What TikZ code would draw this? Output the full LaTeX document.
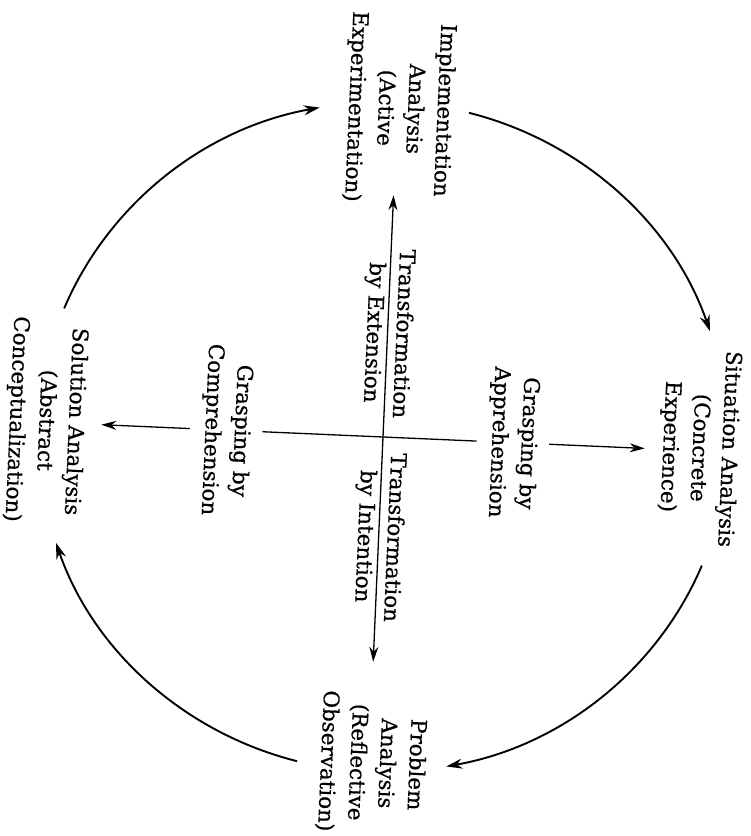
\documentclass[tikz,border=0pt]{standalone}
\usepackage{fontspec}
\newfontfamily\labelfont{DejaVu Serif}[FakeBold=0.6]
\usetikzlibrary{arrows.meta}
\begin{document}
\begin{tikzpicture}[x=1pt,y=1pt,
  lbl/.style={rotate=-90, align=center, font=\labelfont\fontsize{21.5}{29.5}\selectfont, inner sep=0pt},
  gaplbl/.style={lbl, inner sep=11pt},
  axis/.style={line width=1.3pt},
  cyc/.style={line width=1.9pt, -{Stealth[length=16pt,width=10pt]}}]
\useasboundingbox (-383,-399) rectangle (368,437);
\begin{scope}[rotate=-2.5, transform shape]
  % stage labels
  \node[lbl] (impl) at (2,329) {Implementation\\Analysis\\(Active\\Experimentation)};
  \node[lbl] (sit) at (316,3) {Situation Analysis\\(Concrete\\Experience)};
  \node[lbl] (prob) at (3,-326) {Problem\\Analysis\\(Reflective\\Observation)};
  \node[lbl] (sol) at (-338,2) {Solution Analysis\\(Abstract\\Conceptualization)};
  % axis labels
  \node[lbl] (ext) at (0,104) {Transformation\\by Extension};
  \node[lbl] (int) at (0,-100) {Transformation\\by Intention};
  \node[gaplbl] (comp) at (-157,0) {Grasping by\\Comprehension};
  \node[gaplbl] (appr) at (130,0) {Grasping by\\Apprehension};
  % axis ends
  \coordinate (vt) at (0,242);
  \coordinate (vb) at (0,-225);
  \coordinate (hl) at (-282,0);
  \coordinate (hr) at (262,0);
  % vertical axis
  \draw[axis, {Stealth[length=15pt,width=9pt]}-{Stealth[length=15pt,width=9pt]}] (vb) -- (vt);
  % horizontal axis
  \draw[axis, -{Stealth[length=15pt,width=9pt]}] (comp) -- (hl);
  \draw[axis] (comp) -- (appr);
  \draw[axis, -{Stealth[length=15pt,width=9pt]}] (appr) -- (hr);
  % cycle arcs
  \coordinate (a1) at ({345*cos(78)},{335*sin(78)});
  \coordinate (a2) at ({345*cos(-20)},{335*sin(-20)});
  \coordinate (a3) at ({345*cos(-102)},{335*sin(-102)});
  \coordinate (a4) at ({345*cos(160)},{335*sin(160)});
  \draw[cyc] (a1) arc[start angle=78, end angle=21, x radius=345pt, y radius=335pt];
  \draw[cyc] (a2) arc[start angle=-20, end angle=-77, x radius=345pt, y radius=335pt];
  \draw[cyc] (a3) arc[start angle=-102, end angle=-159, x radius=345pt, y radius=335pt];
  \draw[cyc] (a4) arc[start angle=160, end angle=103, x radius=345pt, y radius=335pt];
\end{scope}
\end{tikzpicture}
\end{document}
